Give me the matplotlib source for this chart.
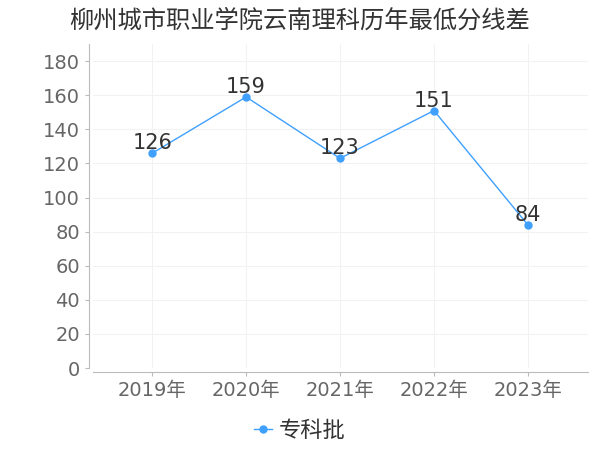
import matplotlib.pyplot as plt

plt.rcParams['font.family'] = ['DejaVu Sans', 'Noto Sans CJK SC']

# 数据
years = ["2019年", "2020年", "2021年", "2022年", "2023年"]
scores = [126, 159, 123, 151, 84]
series_name = "专科批"
title = "柳州城市职业学院云南理科历年最低分线差"

fig = plt.figure(figsize=(6, 4.5), dpi=100)
ax = fig.add_axes([0.155, 0.182, 0.825, 0.72])

x = list(range(len(years)))
ax.plot(x, scores, color="#3fa0ff", linewidth=1, marker="o", markersize=5,
        label=series_name)
for xi, v in zip(x, scores):
    ax.text(xi, v, str(v), ha="center", va="bottom", fontsize=15, color="#333333")

ax.set_xlim(-0.63, 4.64)
ax.set_ylim(0, 190)
ax.set_yticks(range(0, 181, 20))
ax.set_xticks(x)
ax.set_xticklabels(years)
ax.grid(True, color="#f2f2f2", linewidth=0.8)
ax.set_axisbelow(True)

for s in ["top", "right"]:
    ax.spines[s].set_visible(False)
for s in ["left", "bottom"]:
    ax.spines[s].set_color("#bbbbbb")
    ax.spines[s].set_position(("outward", 3))
ax.tick_params(axis="both", colors="#bbbbbb", labelcolor="#666666", labelsize=14, length=3)

fig.text(0.5, 0.955, title, ha="center", va="center", fontsize=17.5, color="#333333")
h, l = ax.get_legend_handles_labels()
fig.legend(h, l, loc="center", bbox_to_anchor=(0.5, 0.043), frameon=False,
           fontsize=16, handlelength=0.8, handletextpad=0.3, labelcolor="#333333",
           borderpad=0)

fig.savefig("out.png", dpi=100)
